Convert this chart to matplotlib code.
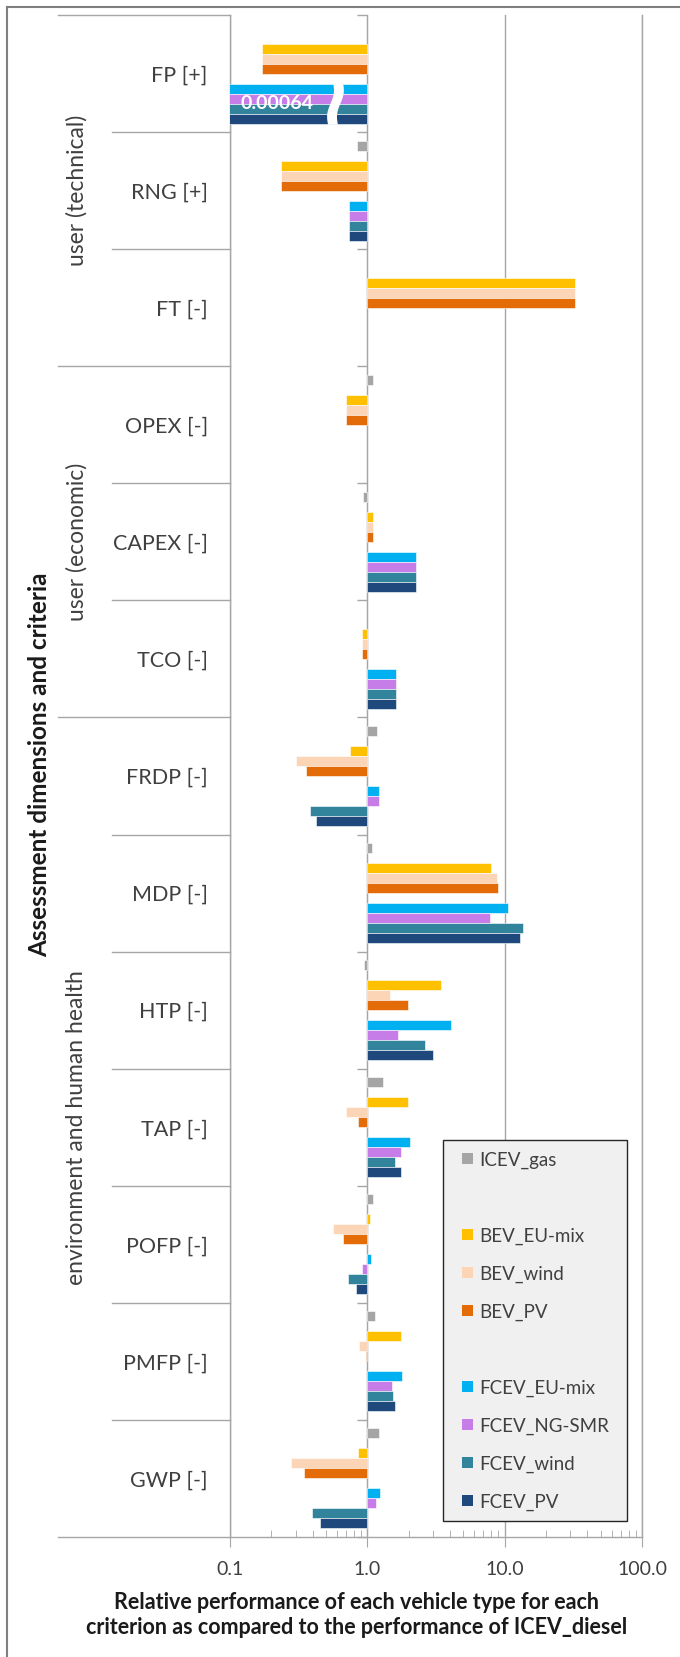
import numpy as np
import matplotlib.pyplot as plt
import matplotlib.transforms as mtransforms
from matplotlib.patches import Rectangle, Polygon
from matplotlib.lines import Line2D

plt.rcParams['font.family'] = ['Lato', 'DejaVu Sans']

nan = np.nan

categories = ['FP [+]', 'RNG [+]', 'FT [-]', 'OPEX [-]', 'CAPEX [-]', 'TCO [-]',
              'FRDP [-]', 'MDP [-]', 'HTP [-]', 'TAP [-]', 'POFP [-]', 'PMFP [-]', 'GWP [-]']
groups = ['user (technical)', 'user (economic)', 'environment and human health']
group_sizes = [3, 3, 7]

icev_gas = [nan, 0.84, nan, 1.10, 0.93, nan, 1.18, 1.08, 0.95, 1.29, 1.10, 1.14, 1.21]
bev_eu = [0.17, 0.235, 32.3, 0.70, 1.10, 0.91, 0.75, 8.0, 3.42, 1.98, 1.05, 1.75, 0.85]
bev_wind = [0.17, 0.235, 32.3, 0.70, 1.10, 0.91, 0.30, 8.75, 1.46, 0.70, 0.56, 0.87, 0.28]
bev_pv = [0.17, 0.235, 32.3, 0.70, 1.10, 0.91, 0.356, 8.9, 1.98, 0.85, 0.67, 0.97, 0.347]
fcev_eu = [0.00064, 0.73, nan, nan, 2.26, 1.63, 1.21, 10.6, 4.08, 2.04, 1.06, 1.79, 1.23]
fcev_ng = [0.00064, 0.73, nan, nan, 2.26, 1.63, 1.21, 7.8, 1.67, 1.75, 0.91, 1.50, 1.15]
fcev_wind = [0.00064, 0.73, nan, nan, 2.26, 1.63, 0.38, 13.5, 2.63, 1.60, 0.72, 1.53, 0.397]
fcev_pv = [0.00064, 0.73, nan, nan, 2.26, 1.63, 0.42, 12.9, 3.0, 1.75, 0.83, 1.60, 0.45]

# None = empty slot (spacer series, as in the original Excel chart)
series_names = ['ICEV_gas', None, 'BEV_EU-mix', 'BEV_wind', 'BEV_PV', None,
                'FCEV_EU-mix', 'FCEV_NG-SMR', 'FCEV_wind', 'FCEV_PV']
series_values = [icev_gas, None, bev_eu, bev_wind, bev_pv, None,
                 fcev_eu, fcev_ng, fcev_wind, fcev_pv]
colors = ['#a5a5a5', None, '#ffc000', '#fbd5b5', '#e36c09', None,
          '#00b0f0', '#c77de8', '#31849b', '#1f497d']

xticks = [0.1, 1, 10, 100]
xtick_labels = ['0.1', '1.0', '10.0', '100.0']
broken_label = '0.00064'

W, H = 680, 1657
def fx(p): return p / W
def fy(p): return 1 - p / H

grey = '#a6a6a6'
txt = '#404040'

fig = plt.figure(figsize=(W / 100, H / 100), dpi=100)
ax = fig.add_axes([fx(230), fy(1537), fx(642) - fx(230), fy(15) - fy(1537)])
ax.set_xscale('log')
ax.set_xlim(0.1, 100)
ax.set_ylim(len(categories) - 0.5, -0.5)

n = len(series_names)
bh = 10 / 117
y = np.arange(len(categories))
for j, (vals, col) in enumerate(zip(series_values, colors)):
    if vals is None:
        continue
    v = np.array(vals, dtype=float)
    ok = ~np.isnan(v)
    ax.barh(y[ok] + (j - (n - 1) / 2) * bh, v[ok] - 1, left=1, height=bh,
            color=col, edgecolor='white', linewidth=0.4, zorder=3)

# broken FCEV bars in FP row
yt, yb = (6 - (n - 1) / 2 - 0.5) * bh - 0.01, (9 - (n - 1) / 2 + 0.5) * bh + 0.01
t = np.linspace(0, 1, 40)
xl = 0.250 - 0.012 * t + 0.005 * np.sin(2 * np.pi * t)
yy = yt + t * (yb - yt)
axy = mtransforms.blended_transform_factory(ax.transAxes, ax.transData)
brk = np.column_stack([np.r_[xl, (xl + 0.024)[::-1]], np.r_[yy, yy[::-1]]])
ax.add_patch(Polygon(brk, closed=True, transform=axy, facecolor='white',
                     edgecolor='none', zorder=4, clip_on=False))
ax.text(0.114, (7.5 - (n - 1) / 2) * bh, broken_label, transform=axy, color='white',
        fontsize=14, fontweight='bold', ha='center', va='center', zorder=5)

# axes styling
ax.set_xticks(xticks)
ax.set_xticklabels(xtick_labels)
ax.tick_params(axis='x', which='major', direction='out', length=7, color=grey,
               labelsize=14, labelcolor=txt, pad=10)
ax.tick_params(axis='x', which='minor', direction='in', length=5, color=grey)
ax.set_yticks(y)
ax.set_yticklabels(categories)
ax.tick_params(axis='y', length=0, labelsize=15.5, labelcolor=txt, pad=16)
ax.spines['top'].set_visible(False)
for s in ['left', 'right', 'bottom']:
    ax.spines[s].set_color(grey)
    ax.spines[s].set_linewidth(1.0)
ax.grid(axis='x', which='major', color=grey, linewidth=1.0)
ax.set_axisbelow(True)

# value axis crossing at 1.0 with category boundary ticks
bounds = np.arange(len(categories) + 1) - 0.5
sec = ax.secondary_yaxis(np.log10(1 / 0.1) / np.log10(100 / 0.1))
sec.set_yticks(bounds)
sec.tick_params(axis='y', length=7, width=1.0, color=grey, labelleft=False, labelright=False)
sec.spines['left'].set_color(grey)

# category / group separators in the label area
trans = mtransforms.blended_transform_factory(fig.transFigure, ax.transData)
group_edges = np.r_[0, np.cumsum(group_sizes)] - 0.5
for b in bounds:
    x0 = 58 if b in group_edges else 112
    fig.add_artist(Line2D([fx(x0), fx(230)], [b, b], transform=trans, color=grey, lw=1.0))

start = 0
for g, size in zip(groups, group_sizes):
    ax.text(fx(77), start + (size - 1) / 2, g, transform=trans, rotation=90,
            ha='center', va='center', fontsize=16.5, color=txt, clip_on=False)
    start += size
ax.text(fx(40), 5.9, 'Assessment dimensions and criteria',
        transform=trans, rotation=90, ha='center', va='center', fontsize=17.5,
        fontweight='bold', color='#1a1a1a', clip_on=False)

fig.text(fx(357), fy(1615), 'Relative performance of each vehicle type for each\n'
         'criterion as compared to the performance of ICEV_diesel',
         ha='center', va='center', fontsize=15.5, fontweight='bold', color='#1a1a1a',
         linespacing=1.2)

# legend box (drawn by hand to keep the Excel row pitch incl. the empty slots)
fig.add_artist(Rectangle((fx(442.7), fy(1520.7)), fx(626.7) - fx(442.7),
                         fy(1140) - fy(1520.7), transform=fig.transFigure,
                         facecolor='#f0f0f0', edgecolor='#262626', lw=1.0, zorder=4))
for k, (name, col) in enumerate(zip(series_names, colors)):
    if name is None:
        continue
    row = 1158.5 + k * 38.0
    fig.add_artist(Rectangle((fx(462), fy(row + 5.5)), fx(11), 11 / H,
                             transform=fig.transFigure, facecolor=col,
                             edgecolor='none', zorder=5))
    fig.text(fx(479), fy(row + 7), name, fontsize=13.5, color=txt,
             ha='left', va='baseline', zorder=6)

# outer frame
fig.add_artist(Line2D([fx(7), fx(7)], [fy(7), 0], color='#7f7f7f', lw=1.5))
fig.add_artist(Line2D([fx(7), 1], [fy(7), fy(7)], color='#7f7f7f', lw=1.5))

fig.savefig('out.png', dpi=100)
